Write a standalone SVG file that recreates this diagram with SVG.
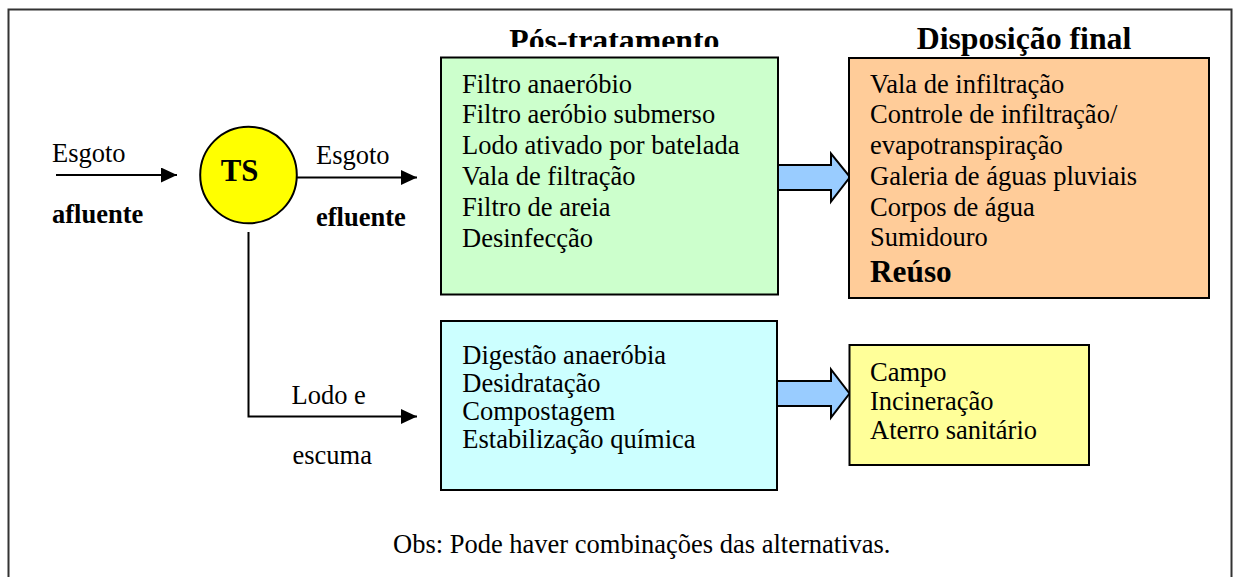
<svg xmlns="http://www.w3.org/2000/svg" width="1233" height="577" viewBox="0 0 1233 577">
<style>
text{font-family:"Liberation Serif","Times New Roman",serif;font-size:26.5px;fill:#000}
.b{font-weight:bold}
.h{font-weight:bold;font-size:31.8px}
.box{stroke:#000;stroke-width:2}
.ln{stroke:#000;stroke-width:2;fill:none}
.fat{fill:#99CCFF;stroke:#000;stroke-width:2;stroke-linejoin:miter}
</style>
<defs>
<marker id="ah" viewBox="0 0 16 15" refX="16" refY="7.5" markerWidth="16" markerHeight="15" markerUnits="userSpaceOnUse" orient="auto">
<path d="M0,0 L16,7.5 L0,15 Z" fill="#000"/>
</marker>
<clipPath id="clipH"><rect x="400" y="0" width="400" height="47"/></clipPath>
</defs>
<rect x="8.5" y="9.5" width="1223" height="600" fill="#fff" stroke="#333" stroke-width="2"/>

<g id="connectors">
<line class="ln" x1="56" y1="175" x2="177" y2="175" marker-end="url(#ah)"/>
<line class="ln" x1="297" y1="177.5" x2="417" y2="177.5" marker-end="url(#ah)"/>
<polyline class="ln" points="248.5,232 248.5,416.5 417,416.5" marker-end="url(#ah)"/>
<path class="fat" d="M777,165 L831,165 L831,153.5 L850,177 L831,201.5 L831,190 L777,190 Z"/>
<path class="fat" d="M777,381 L831,381 L831,369.5 L849.5,393.5 L831,417.5 L831,406 L777,406 Z"/>
</g>

<g id="labels">
<text x="52" y="162">Esgoto</text>
<text class="b" x="52" y="223">afluente</text>
<text x="316" y="163.5">Esgoto</text>
<text class="b" x="316" y="226">efluente</text>
<text x="291.5" y="404">Lodo e</text>
<text x="292.5" y="464">escuma</text>
</g>

<g id="ts">
<circle cx="248.5" cy="175" r="48.3" fill="#FFFF00" stroke="#000" stroke-width="2"/>
<text class="b" x="220.7" y="181" style="font-size:30.8px">TS</text>
</g>

<g id="pos-tratamento">
<text class="h" x="509.3" y="51" clip-path="url(#clipH)">Pós-tratamento</text>
<rect class="box" x="441" y="57.5" width="337" height="237" fill="#CCFFCC"/>
<text x="462" y="92.5">Filtro anaeróbio</text>
<text x="462" y="123.4">Filtro aeróbio submerso</text>
<text x="462" y="154.3">Lodo ativado por batelada</text>
<text x="462" y="185.2">Vala de filtração</text>
<text x="462" y="216.1">Filtro de areia</text>
<text x="462" y="247">Desinfecção</text>
</g>

<g id="disposicao-final">
<text class="h" x="916.7" y="48.5">Disposição final</text>
<rect class="box" x="849" y="58" width="360" height="240" fill="#FFCC99"/>
<text x="870" y="92.7">Vala de infiltração</text>
<text x="870" y="123.4">Controle de infiltração/</text>
<text x="870" y="154">evapotranspiração</text>
<text x="870" y="185">Galeria de águas pluviais</text>
<text x="870" y="215.5">Corpos de água</text>
<text x="870" y="246">Sumidouro</text>
<text class="b" x="870" y="281.5" style="font-size:31.3px">Reúso</text>
</g>

<g id="lodo-tratamento">
<rect class="box" x="441" y="321" width="336" height="169" fill="#CCFFFF"/>
<text x="462.3" y="364.3">Digestão anaeróbia</text>
<text x="462.3" y="392.3">Desidratação</text>
<text x="462.3" y="420.3">Compostagem</text>
<text x="462.3" y="448.3">Estabilização química</text>
</g>

<g id="lodo-disposicao">
<rect class="box" x="849.5" y="345" width="239.5" height="120" fill="#FFFF99"/>
<text x="870" y="381">Campo</text>
<text x="870" y="410">Incineração</text>
<text x="870" y="439">Aterro sanitário</text>
</g>

<text x="393" y="553.3">Obs: Pode haver combinações das alternativas.</text>
</svg>
